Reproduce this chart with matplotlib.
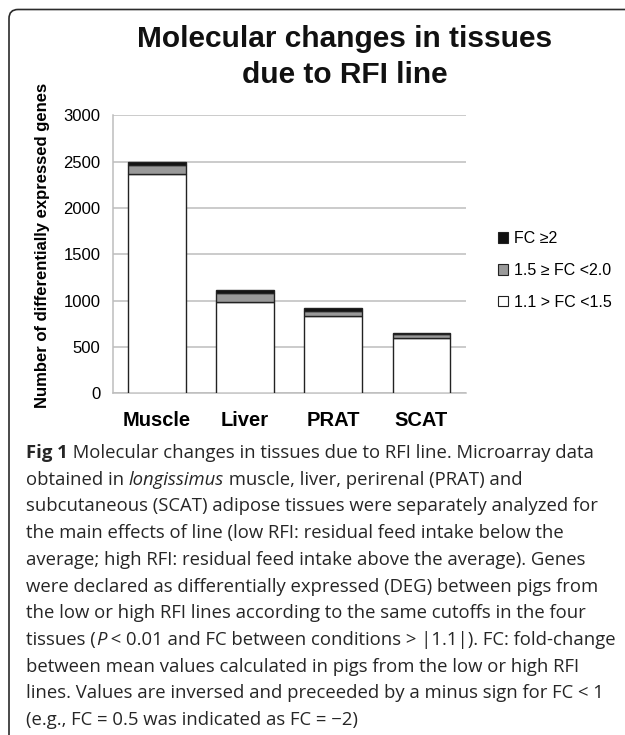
import numpy as np
import matplotlib.pyplot as plt
from matplotlib.path import Path
from matplotlib.patches import PathPatch, Patch

# Données
tissues = ['Muscle', 'Liver', 'PRAT', 'SCAT']
fc_low = [2370, 985, 835, 595]     # 1.1 > FC <1.5
fc_mid = [95, 95, 57, 40]          # 1.5 ≥ FC <2.0
fc_high = [35, 35, 28, 20]         # FC ≥2
series_labels = ['1.1 > FC <1.5', '1.5 \u2265 FC <2.0', 'FC \u22652']
yticks = [0, 500, 1000, 1500, 2000, 2500, 3000]

W, H = 625, 735
fig = plt.figure(figsize=(W / 100, H / 100), dpi=100)
plt.rcParams['font.family'] = ['Liberation Sans', 'DejaVu Sans']


def fx(px):
    return px / W


def fy(py):
    return 1 - py / H


# Cadre (haut + gauche, coin arrondi)
r = 9
verts = [(fx(9), fy(H + 2)), (fx(9), fy(9.5 + r)), (fx(9), fy(9.5)), (fx(9 + r), fy(9.5)), (fx(W + 2), fy(9.5))]
codes = [Path.MOVETO, Path.LINETO, Path.CURVE3, Path.CURVE3, Path.LINETO]
fig.patches.append(PathPatch(Path(verts, codes), transform=fig.transFigure,
                             fill=False, edgecolor='#2b2b2b', linewidth=1.2))

# Titre
fig.text(fx(345), fy(39), 'Molecular changes in tissues', ha='center', va='center',
         fontsize=21.5, fontweight='bold', color='#111111')
fig.text(fx(345), fy(75), 'due to RFI line', ha='center', va='center',
         fontsize=21.5, fontweight='bold', color='#111111')

# Graphique
ax = fig.add_axes([fx(112.8), fy(393.3), fx(465.5) - fx(112.8), (393.3 - 115.5) / H])
x = np.arange(len(tissues))
bw = 0.655
edge = '#222222'
low = np.array(fc_low)
mid = np.array(fc_mid)
high = np.array(fc_high)
ax.bar(x, low, bw, color='white', edgecolor=edge, linewidth=1.0, zorder=3)
ax.bar(x, mid, bw, bottom=low, color='#999999', edgecolor=edge, linewidth=1.0, zorder=3)
ax.bar(x, high, bw, bottom=low + mid, color='#111111', edgecolor=edge, linewidth=1.0, zorder=3)

ax.set_xlim(-0.5, len(tissues) - 0.5)
ax.set_ylim(0, 3000)
ax.set_yticks(yticks)
ax.set_yticklabels([str(v) for v in yticks], fontsize=12)
ax.yaxis.grid(True, color='#bdbdbd', linewidth=1.1, zorder=0)
ax.set_axisbelow(True)
ax.set_xticks(x)
ax.set_xticklabels(tissues, fontsize=14.5, fontweight='bold')
ax.tick_params(axis='y', length=0, pad=9)
ax.tick_params(axis='x', length=0, pad=13)
for s in ['top', 'right']:
    ax.spines[s].set_visible(False)
for s in ['left', 'bottom']:
    ax.spines[s].set_color('#bdbdbd')
    ax.spines[s].set_linewidth(1.1)

fig.text(fx(43), fy(245), 'Number of differentially expressed genes', rotation=90,
         ha='center', va='center', fontsize=12, fontweight='bold')

# Légende
handles = [Patch(facecolor='#111111', edgecolor=edge, linewidth=0.8),
           Patch(facecolor='#999999', edgecolor=edge, linewidth=0.8),
           Patch(facecolor='white', edgecolor=edge, linewidth=0.8)]
leg = fig.legend(handles, series_labels[::-1], loc='center left',
                 bbox_to_anchor=(fx(490), fy(270.5)), frameon=False, fontsize=11.5,
                 handlelength=0.65, handleheight=0.65, handletextpad=0.35,
                 labelspacing=1.05, borderpad=0)

# Légende de la figure (texte)
cap_font = 'Open Sans'
cap_size = 13.3
caption = [
    [('Fig 1', 'bold'), (' Molecular changes in tissues due to RFI line. Microarray data', 'normal')],
    [('obtained in ', 'normal'), ('longissimus', 'italic'), (' muscle, liver, perirenal (PRAT) and', 'normal')],
    [('subcutaneous (SCAT) adipose tissues were separately analyzed for', 'normal')],
    [('the main effects of line (low RFI: residual feed intake below the', 'normal')],
    [('average; high RFI: residual feed intake above the average). Genes', 'normal')],
    [('were declared as differentially expressed (DEG) between pigs from', 'normal')],
    [('the low or high RFI lines according to the same cutoffs in the four', 'normal')],
    [('tissues (', 'normal'), ('P', 'italic'), (' < 0.01 and FC between conditions > |1.1|). FC: fold-change', 'normal')],
    [('between mean values calculated in pigs from the low or high RFI', 'normal')],
    [('lines. Values are inversed and preceeded by a minus sign for FC < 1', 'normal')],
    [('(e.g., FC = 0.5 was indicated as FC = \u22122)', 'normal')],
]

renderer = fig.canvas.get_renderer()
y0 = 458
for i, line in enumerate(caption):
    xpos = 26
    for txt, style in line:
        t = fig.text(fx(xpos), fy(y0 + i * 26.7), txt, ha='left', va='baseline',
                     fontsize=cap_size, family=[cap_font, 'DejaVu Sans'],
                     fontweight='bold' if style == 'bold' else 'normal',
                     fontstyle='italic' if style == 'italic' else 'normal',
                     color='#262626')
        bb = t.get_window_extent(renderer)
        xpos += bb.width

fig.savefig('out.png', dpi=100)
